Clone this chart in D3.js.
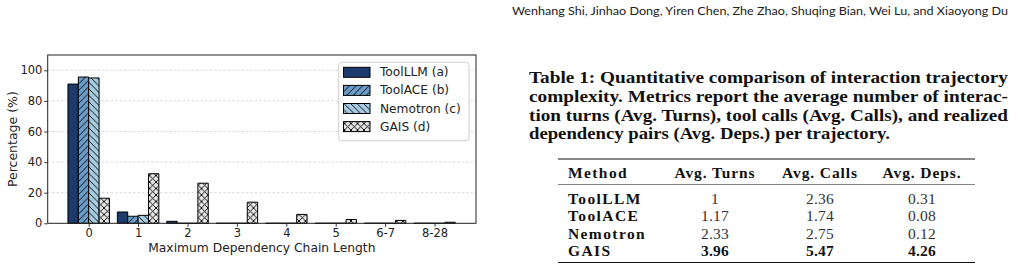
<!DOCTYPE html>
<html><head><meta charset="utf-8">
<script src="https://cdn.jsdelivr.net/npm/d3@7/dist/d3.min.js"></script>
<style>html,body{margin:0;padding:0;background:#fff;}svg{display:block;}</style>
</head><body>
<svg id="c" width="1018" height="280"></svg>
<script>
// ---- data ----
const categories = ["0","1","2","3","4","5","6-7","8-28"];
const seriesNames = ["ToolLLM (a)","ToolACE (b)","Nemotron (c)","GAIS (d)"];
const toolllm  = [91.0, 7.4, 1.3, 0, 0, 0, 0, 0];
const toolace  = [95.6, 4.6, 0, 0, 0, 0, 0, 0];
const nemotron = [95.0, 5.2, 0, 0, 0, 0, 0, 0];
const gais     = [16.4, 32.4, 26.2, 13.8, 5.8, 2.5, 1.9, 0.7];
const yTicks = [0,20,40,60,80,100];

const headerText = "Wenhang Shi, Jinhao Dong, Yiren Chen, Zhe Zhao, Shuqing Bian, Wei Lu, and Xiaoyong Du";
const captionLines = [
  "Table 1: Quantitative comparison of interaction trajectory",
  "complexity. Metrics report the average number of interac-",
  "tion turns (Avg. Turns), tool calls (Avg. Calls), and realized",
  "dependency pairs (Avg. Deps.) per trajectory."
];
const tableHeader = ["Method","Avg. Turns","Avg. Calls","Avg. Deps."];
const tableMethods = ["ToolLLM","ToolACE","Nemotron","GAIS"];
const avgTurns = ["1","1.17","2.33","3.96"];
const avgCalls = ["2.36","1.74","2.75","5.47"];
const avgDeps  = ["0.31","0.08","0.12","4.26"];
const boldRow = 3;

// ---- styling ----
const colors = ["#1d3a6d","#6b9cc9","#a7cbe1","#e4e4e4"];
const hatches = [null,"fwd","back","cross"];
const svg = d3.select("#c");
const defs = svg.append("defs");
const hp = 6.5;
function addPattern(id, color, kind){
  const p = defs.append("pattern").attr("id",id).attr("patternUnits","userSpaceOnUse")
    .attr("width",hp).attr("height",hp);
  p.append("rect").attr("width",hp).attr("height",hp).attr("fill",color);
  const lines = [];
  if(kind==="fwd"||kind==="cross") lines.push(`M${-hp},${2*hp} L${2*hp},${-hp} M${-hp},${hp} L${hp},${-hp} M0,${2*hp} L${2*hp},0`);
  if(kind==="back"||kind==="cross") lines.push(`M${-hp},${-hp} L${2*hp},${2*hp} M${-hp},0 L${hp},${2*hp} M0,${-hp} L${2*hp},${hp}`);
  lines.forEach(d=>p.append("path").attr("d",d).attr("stroke","#000").attr("stroke-width",0.9).attr("fill","none"));
}
colors.forEach((c,i)=>{ if(hatches[i]) addPattern("h"+i,c,hatches[i]); });
const fillOf = i => hatches[i] ? `url(#h${i})` : colors[i];

// ---- chart ----
const L=47.7, R=476, T=55, B=223.3;
const x = d3.scaleLinear().domain([-0.83, 7.84]).range([L,R]);
const y = d3.scaleLinear().domain([0,110]).range([B,T]);
const font = "DejaVu Sans, sans-serif";

// grid
svg.append("g").selectAll("line").data(yTicks.slice(1)).join("line")
  .attr("x1",L).attr("x2",R).attr("y1",d=>y(d)).attr("y2",d=>y(d))
  .attr("stroke","#c8c8c8").attr("stroke-width",0.7).attr("stroke-dasharray","2.5,2");

const series = [toolllm, toolace, nemotron, gais];
const bw = 0.21;
const offs = [-1.5,-0.5,0.5,1.5];
const barG = svg.append("g");
series.forEach((vals,si)=>{
  barG.append("g").selectAll("path").data(vals).join("path")
    .attr("d",(v,ci)=>{
      const x0 = x(ci + offs[si]*bw - bw/2), x1 = x(ci + offs[si]*bw + bw/2);
      const p = d3.path(); p.moveTo(x0,y(0)); p.lineTo(x0,y(v)); p.lineTo(x1,y(v)); p.lineTo(x1,y(0)); p.closePath();
      return p.toString();
    })
    .attr("fill",fillOf(si)).attr("stroke","#000").attr("stroke-width",1);
});

// axes
const xAxis = d3.axisBottom(x).tickValues(d3.range(categories.length)).tickFormat(i=>categories[i]).tickSize(3.5).tickPadding(1.8);
const yAxis = d3.axisLeft(y).tickValues(yTicks).tickSize(3.5).tickPadding(1.8);
const gx = svg.append("g").attr("transform",`translate(0,${B})`).call(xAxis);
const gy = svg.append("g").attr("transform",`translate(${L},0)`).call(yAxis);
[gx,gy].forEach(g=>{
  g.select(".domain").remove();
  g.selectAll("line").attr("stroke","#222").attr("stroke-width",0.9);
  g.selectAll("text").attr("font-family",font).attr("font-size",11.5).attr("fill","#222");
});
// spines
svg.append("rect").attr("x",L).attr("y",T).attr("width",R-L).attr("height",B-T)
  .attr("fill","none").attr("stroke","#222").attr("stroke-width",1);

svg.append("text").attr("x",(L+R)/2).attr("y",251.5).attr("text-anchor","middle")
  .attr("font-family",font).attr("font-size",12.3).attr("fill","#222").text("Maximum Dependency Chain Length");
svg.append("text").attr("transform",`translate(17,${(T+B)/2}) rotate(-90)`).attr("text-anchor","middle")
  .attr("font-family",font).attr("font-size",12.5).attr("fill","#222").text("Percentage (%)");

// legend
const lg = svg.append("g");
lg.append("rect").attr("x",338.7).attr("y",62.3).attr("width",130.3).attr("height",78.4).attr("rx",3)
  .attr("fill","#fff").attr("fill-opacity",0.85).attr("stroke","#cfcfcf").attr("stroke-width",1);
seriesNames.forEach((n,i)=>{
  const cy = 72.3 + i*18.1;
  lg.append("rect").attr("x",343.5).attr("y",cy-5).attr("width",26.5).attr("height",10)
    .attr("fill",fillOf(i)).attr("stroke","#000").attr("stroke-width",1);
  lg.append("text").attr("x",380).attr("y",cy).attr("dominant-baseline","central")
    .attr("font-family",font).attr("font-size",12.2).attr("fill","#222").text(n);
});

// ---- header ----
svg.append("text").attr("x",1008).attr("y",15).attr("text-anchor","end")
  .attr("font-family","Lato, 'Open Sans', sans-serif").attr("font-size",12).attr("fill","#222")
  .attr("textLength",496).attr("lengthAdjust","spacingAndGlyphs").text(headerText);

// ---- caption ----
const serif = "'Liberation Serif', 'Times New Roman', serif";
const capW = [479,479,479,361];
captionLines.forEach((t,i)=>{
  svg.append("text").attr("x",529).attr("y",83+i*18.8)
    .attr("font-family",serif).attr("font-weight","bold").attr("font-size",15.8).attr("fill","#111")
    .attr("textLength",capW[i]).attr("lengthAdjust","spacingAndGlyphs").text(t);
});

// ---- table ----
const tL=558, tR=975;
const colX = [568, 715, 820, 922];
const ruleTop=159, ruleMid=184.5, ruleBot=262.5;
svg.append("line").attr("x1",tL).attr("x2",tR).attr("y1",ruleTop).attr("y2",ruleTop).attr("stroke","#111").attr("stroke-width",1.1);
svg.append("line").attr("x1",tL).attr("x2",tR).attr("y1",ruleMid).attr("y2",ruleMid).attr("stroke","#777").attr("stroke-width",0.9);
svg.append("line").attr("x1",tL).attr("x2",tR).attr("y1",ruleBot).attr("y2",ruleBot).attr("stroke","#111").attr("stroke-width",1.1);
tableHeader.forEach((h,i)=>{
  svg.append("text").attr("x",colX[i]).attr("y",178).attr("text-anchor",i===0?"start":"middle")
    .attr("font-family",serif).attr("font-weight","bold").attr("font-size",15.5).attr("letter-spacing",i===0?1.4:0.9)
    .attr("fill","#111").text(h);
});
const cols = [tableMethods, avgTurns, avgCalls, avgDeps];
tableMethods.forEach((m,r)=>{
  const yy = 203.5 + r*17.6;
  cols.forEach((col,ci)=>{
    const bold = ci===0 || r===boldRow;
    svg.append("text").attr("x",colX[ci]).attr("y",yy).attr("text-anchor",ci===0?"start":"middle")
      .attr("font-family",serif).attr("font-weight",bold?"bold":"normal").attr("font-size",15.5)
      .attr("letter-spacing",ci===0?1.4:0.2).attr("fill",bold?"#111":"#333").text(col[r]);
  });
});
</script>
</body></html>
